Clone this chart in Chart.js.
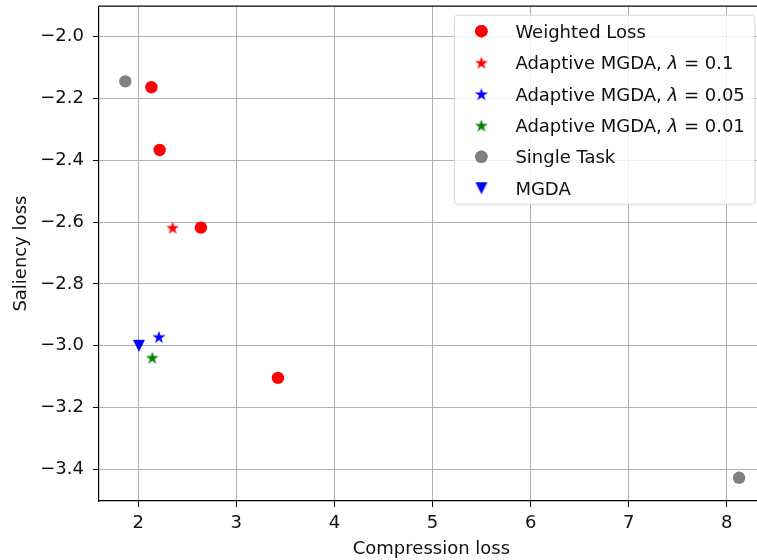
<!DOCTYPE html>
<html>
<head>
<meta charset="utf-8">
<script src="https://cdn.jsdelivr.net/npm/chart.js@4.4.1/dist/chart.umd.min.js"></script>
<style>
html,body{margin:0;padding:0;background:#fff;overflow:hidden;}
#wrap{width:770px;height:560px;position:relative;}
</style>
</head>
<body>
<div id="wrap"><canvas id="c" width="770" height="560"></canvas></div>
<script>
// ---- data ----
const weightedX = [2.134, 2.218, 2.639, 3.424];
const weightedY = [-2.164, -2.367, -2.618, -3.104];
const amgda01X = [2.351];
const amgda01Y = [-2.618];
const amgda005X = [2.211];
const amgda005Y = [-2.971];
const amgda001X = [2.144];
const amgda001Y = [-3.038];
const singleX = [1.868, 8.125];
const singleY = [-2.145, -3.427];
const mgdaX = [2.007];
const mgdaY = [-3.0];
const xTicks = [2, 3, 4, 5, 6, 7, 8];
const yTicks = [-2.0, -2.2, -2.4, -2.6, -2.8, -3.0, -3.2, -3.4];
const seriesLabels = ['Weighted Loss', 'Adaptive MGDA, λ = 0.1', 'Adaptive MGDA, λ = 0.05', 'Adaptive MGDA, λ = 0.01', 'Single Task', 'MGDA'];

const FONT = 'DejaVu Sans';
const FS = 18;
const TXT = '#111';

function pts(xs, ys){ return xs.map((x,i)=>({x:x, y:ys[i]})); }

function starImg(color, R){
  const s = Math.ceil(R*2+2);
  const c = document.createElement('canvas'); c.width = s; c.height = s;
  const g = c.getContext('2d');
  const cx = s/2, cy = s/2 + R*0.1;
  const r = R*0.381966;
  g.beginPath();
  for (let i=0;i<10;i++){
    const a = -Math.PI/2 + i*Math.PI/5;
    const rr = i%2===0 ? R : r;
    const px = cx + rr*Math.cos(a), py = cy + rr*Math.sin(a);
    if(i===0) g.moveTo(px,py); else g.lineTo(px,py);
  }
  g.closePath(); g.fillStyle = color; g.fill();
  return c;
}
function triDownImg(color, h){
  const s = Math.ceil(h+2);
  const c = document.createElement('canvas'); c.width = s; c.height = s;
  const g = c.getContext('2d');
  const o = (s-h)/2;
  g.beginPath();
  g.moveTo(o, o); g.lineTo(o+h, o); g.lineTo(o+h/2, o+h); g.closePath();
  g.fillStyle = color; g.fill();
  return c;
}

const redStar = starImg('#ff0000', 6.8);
const blueStar = starImg('#0000ff', 6.8);
const greenStar = starImg('#008000', 6.8);
const blueTri = triDownImg('#0000ff', 12);

const datasets = [
  {label: seriesLabels[0], data: pts(weightedX, weightedY), pointStyle:'circle', pointRadius:6.2, backgroundColor:'#ff0000', borderColor:'#ff0000', borderWidth:0},
  {label: seriesLabels[1], data: pts(amgda01X, amgda01Y), pointStyle: redStar, backgroundColor:'#ff0000', borderColor:'#ff0000'},
  {label: seriesLabels[2], data: pts(amgda005X, amgda005Y), pointStyle: blueStar, backgroundColor:'#0000ff', borderColor:'#0000ff'},
  {label: seriesLabels[3], data: pts(amgda001X, amgda001Y), pointStyle: greenStar, backgroundColor:'#008000', borderColor:'#008000'},
  {label: seriesLabels[4], data: pts(singleX, singleY), pointStyle:'circle', pointRadius:6.2, backgroundColor:'#808080', borderColor:'#808080', borderWidth:0},
  {label: seriesLabels[5], data: pts(mgdaX, mgdaY), pointStyle: blueTri, backgroundColor:'#0000ff', borderColor:'#0000ff'}
];

function fmtMinus(s){ return String(s).replace('-', '\u2212'); }

const framePlugin = {
  id:'frame',
  afterDatasetsDraw(chart){
    const {ctx, chartArea:a} = chart;
    ctx.save();
    ctx.strokeStyle = '#000'; ctx.lineWidth = 1.2;
    ctx.beginPath(); ctx.moveTo(a.left, a.top); ctx.lineTo(a.right, a.top); ctx.stroke();
    ctx.beginPath(); ctx.moveTo(a.right, a.top); ctx.lineTo(a.right, a.bottom); ctx.stroke();
    ctx.restore();
  }
};

const legendPlugin = {
  id:'mplLegend',
  afterDraw(chart){
    const {ctx, chartArea:a} = chart;
    const ds = chart.data.datasets;
    ctx.save();
    const normal = FS + 'px "' + FONT + '"';
    const italic = 'oblique ' + FS + 'px "' + FONT + '"';
    function measure(label){
      const parts = label.split('λ');
      let w = 0;
      parts.forEach((p,i)=>{
        ctx.font = normal; w += ctx.measureText(p).width;
        if(i<parts.length-1){ ctx.font = italic; w += ctx.measureText('λ').width; }
      });
      return w;
    }
    let maxW = 0; ds.forEach(d=>{ maxW = Math.max(maxW, measure(d.label)); });
    const pad = 9;
    const textX0 = 61;
    const boxW = textX0 + maxW + 10;
    const pitch = 31.4;
    const boxH = 16*2 + pitch*(ds.length-1);
    const bx = a.right - pad - boxW, by = a.top + pad;
    ctx.beginPath();
    const r = 3;
    ctx.moveTo(bx+r, by); ctx.lineTo(bx+boxW-r, by); ctx.arcTo(bx+boxW, by, bx+boxW, by+r, r);
    ctx.lineTo(bx+boxW, by+boxH-r); ctx.arcTo(bx+boxW, by+boxH, bx+boxW-r, by+boxH, r);
    ctx.lineTo(bx+r, by+boxH); ctx.arcTo(bx, by+boxH, bx, by+boxH-r, r);
    ctx.lineTo(bx, by+r); ctx.arcTo(bx, by, bx+r, by, r); ctx.closePath();
    ctx.fillStyle = 'rgba(255,255,255,0.8)'; ctx.fill();
    ctx.strokeStyle = 'rgba(204,204,204,0.8)'; ctx.lineWidth = 1; ctx.stroke();
    ds.forEach((d,i)=>{
      const cy = by + 16 + pitch*i;
      const mx = bx + 27;
      const ps = d.pointStyle;
      if (typeof ps === 'string'){
        ctx.fillStyle = d.backgroundColor; ctx.strokeStyle = d.borderColor;
        Chart.helpers.drawPoint(ctx, {pointStyle: ps, radius: 6.2, rotation:0, borderWidth:0}, mx, cy);
        ctx.fill();
      } else {
        ctx.drawImage(ps, mx - ps.width/2, cy - ps.height/2);
      }
      let tx = bx + textX0;
      const base = cy + 6.6;
      ctx.fillStyle = TXT;
      ctx.textBaseline = 'alphabetic';
      const parts = d.label.split('λ');
      parts.forEach((p,j)=>{
        ctx.font = normal; ctx.fillText(p, tx, base); tx += ctx.measureText(p).width;
        if(j<parts.length-1){ ctx.font = italic; ctx.fillText('λ', tx, base); tx += ctx.measureText('λ').width; }
      });
    });
    ctx.restore();
  }
};

new Chart(document.getElementById('c'), {
  type:'scatter',
  data:{datasets},
  plugins:[framePlugin, legendPlugin],
  options:{
    responsive:false,
    animation:false,
    devicePixelRatio:1,
    layout:{padding:{top:5, right:6, left:0, bottom:0}},
    plugins:{legend:{display:false}, tooltip:{enabled:false}},
    scales:{
      x:{
        type:'linear', min:1.6, max:8.377,
        afterBuildTicks(s){ s.ticks = xTicks.map(v=>({value:v})); },
        afterFit(s){ s.height = 59; s.paddingLeft = 0; s.paddingRight = 0; },
        grid:{color:'#b0b0b0', lineWidth:1, tickColor:'#000', tickLength:6, drawTicks:true},
        border:{color:'#000', width:1.2},
        ticks:{color:TXT, font:{family:FONT, size:FS}, padding:6, maxRotation:0, callback:(v)=>String(v)},
        title:{display:true, text:'Compression loss', color:TXT, font:{family:FONT, size:FS}, padding:{top:2, bottom:0}}
      },
      y:{
        type:'linear', min:-3.502, max:-1.902,
        afterBuildTicks(s){ s.ticks = yTicks.map(v=>({value:v})); },
        afterFit(s){ s.width = 99; s.paddingTop = 0; s.paddingBottom = 0; },
        grid:{color:'#b0b0b0', lineWidth:1, tickColor:'#000', tickLength:6, drawTicks:true},
        border:{color:'#000', width:1.2},
        ticks:{color:TXT, font:{family:FONT, size:FS}, padding:9, callback:(v)=>fmtMinus(Number(v).toFixed(1))},
        title:{display:true, text:'Saliency loss', color:TXT, font:{family:FONT, size:FS}, padding:{top:11, bottom:4}}
      }
    }
  }
});
</script>
</body>
</html>
